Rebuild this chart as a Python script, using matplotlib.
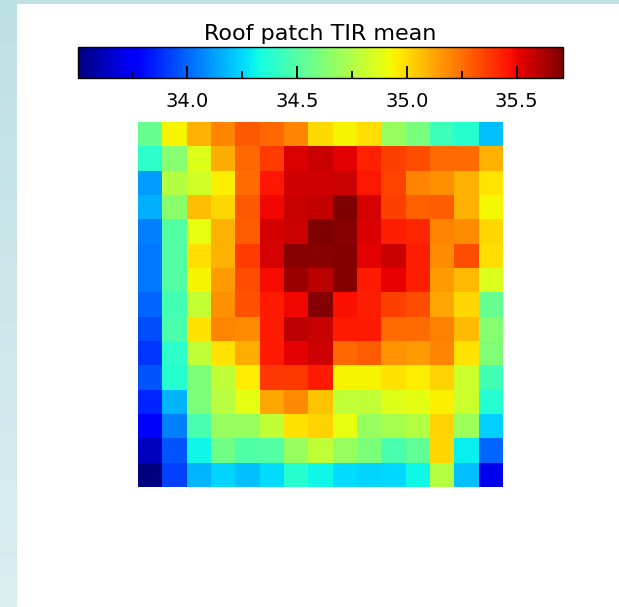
import numpy as np
import matplotlib
matplotlib.use('Agg')
import matplotlib.pyplot as plt
from matplotlib.colors import LinearSegmentedColormap
from matplotlib.patches import Rectangle
from matplotlib.ticker import FixedLocator

# mean TIR per roof patch cell, 15 x 15 grid, top row first
row00 = [34.55, 34.94, 35.09, 35.20, 35.30, 35.27, 35.20, 35.00, 34.94, 34.99, 34.68, 34.60, 34.44, 34.38, 34.20]
row01 = [34.40, 34.64, 34.87, 35.10, 35.27, 35.37, 35.53, 35.57, 35.52, 35.43, 35.36, 35.33, 35.26, 35.26, 35.09]
row02 = [34.12, 34.76, 34.84, 34.95, 35.26, 35.46, 35.55, 35.55, 35.56, 35.46, 35.35, 35.20, 35.17, 35.09, 34.97]
row03 = [34.16, 34.65, 35.07, 35.01, 35.30, 35.49, 35.57, 35.58, 35.71, 35.54, 35.36, 35.28, 35.29, 35.09, 34.93]
row04 = [34.06, 34.50, 34.90, 35.09, 35.29, 35.54, 35.56, 35.71, 35.69, 35.53, 35.44, 35.42, 35.20, 35.18, 35.01]
row05 = [34.04, 34.50, 34.99, 35.09, 35.37, 35.54, 35.69, 35.69, 35.70, 35.52, 35.57, 35.44, 35.18, 35.33, 34.99]
row06 = [34.04, 34.50, 34.94, 35.15, 35.33, 35.48, 35.65, 35.59, 35.70, 35.45, 35.51, 35.44, 35.15, 35.08, 34.86]
row07 = [34.00, 34.46, 34.80, 35.17, 35.32, 35.45, 35.49, 35.70, 35.47, 35.44, 35.36, 35.33, 35.12, 35.01, 34.55]
row08 = [33.95, 34.47, 34.98, 35.20, 35.18, 35.45, 35.59, 35.57, 35.45, 35.45, 35.26, 35.26, 35.21, 35.08, 34.64]
row09 = [33.90, 34.40, 34.79, 34.98, 35.10, 35.45, 35.52, 35.56, 35.27, 35.29, 35.16, 35.15, 35.20, 34.98, 34.62]
row10 = [33.97, 34.38, 34.61, 34.79, 34.96, 35.38, 35.38, 35.45, 34.94, 34.94, 34.98, 34.96, 35.02, 34.82, 34.46]
row11 = [33.86, 34.17, 34.61, 34.77, 34.89, 35.12, 35.19, 35.05, 34.79, 34.79, 34.87, 34.89, 34.95, 34.82, 34.38]
row12 = [33.76, 34.06, 34.47, 34.68, 34.68, 34.79, 34.98, 35.02, 34.90, 34.68, 34.72, 34.76, 35.02, 34.70, 34.23]
row13 = [33.63, 33.97, 34.32, 34.58, 34.49, 34.50, 34.68, 34.79, 34.68, 34.61, 34.47, 34.53, 35.01, 34.30, 34.00]
row14 = [33.505, 33.92, 34.17, 34.24, 34.20, 34.26, 34.38, 34.32, 34.26, 34.24, 34.25, 34.32, 34.76, 34.20, 33.72]

cbar_title = 'Roof patch TIR mean'
major_ticks = [34.0, 34.5, 35.0, 35.5]
major_labels = ['34.0', '34.5', '35.0', '35.5']
minor_ticks = [33.75, 34.25, 34.75, 35.25]

grid = np.array([row00, row01, row02, row03, row04, row05, row06, row07,
                 row08, row09, row10, row11, row12, row13, row14])

W, H = 619, 607
fig = plt.figure(figsize=(W / 100, H / 100), dpi=100)
fig.patch.set_facecolor('white')

# page frame: pale blue strip on the left and along the top
strip = fig.add_axes([0, 0, 17 / W, 1])
shade = LinearSegmentedColormap.from_list('shade', ['#bde0e4', '#dbeef0'])
strip.imshow(np.linspace(0, 1, 100).reshape(-1, 1), cmap=shade, aspect='auto')
strip.axis('off')
fig.add_artist(Rectangle((0, 1 - 4 / H), 1, 4 / H, transform=fig.transFigure,
                         color='#c0e1e4', lw=0))

ax = fig.add_axes([138 / W, 1 - 487 / H, 365 / W, 365 / H])
im = ax.imshow(grid, cmap='jet', vmin=grid.min(), vmax=grid.max(),
               interpolation='nearest', aspect='auto')
ax.axis('off')

cax = fig.add_axes([78 / W, 1 - 78 / H, 485 / W, 31 / H])
cb = fig.colorbar(im, cax=cax, orientation='horizontal')
cb.set_ticks(major_ticks)
cax.set_xticklabels(major_labels)
cax.xaxis.set_minor_locator(FixedLocator(minor_ticks))
cax.tick_params(which='major', direction='in', length=9, width=1.3,
                labelsize=14, pad=10)
cax.tick_params(which='minor', direction='in', length=5, width=1.3)
cb.outline.set_linewidth(1.0)
cax.set_title(cbar_title, fontsize=16, pad=5)

fig.savefig('out.png', dpi=100)
